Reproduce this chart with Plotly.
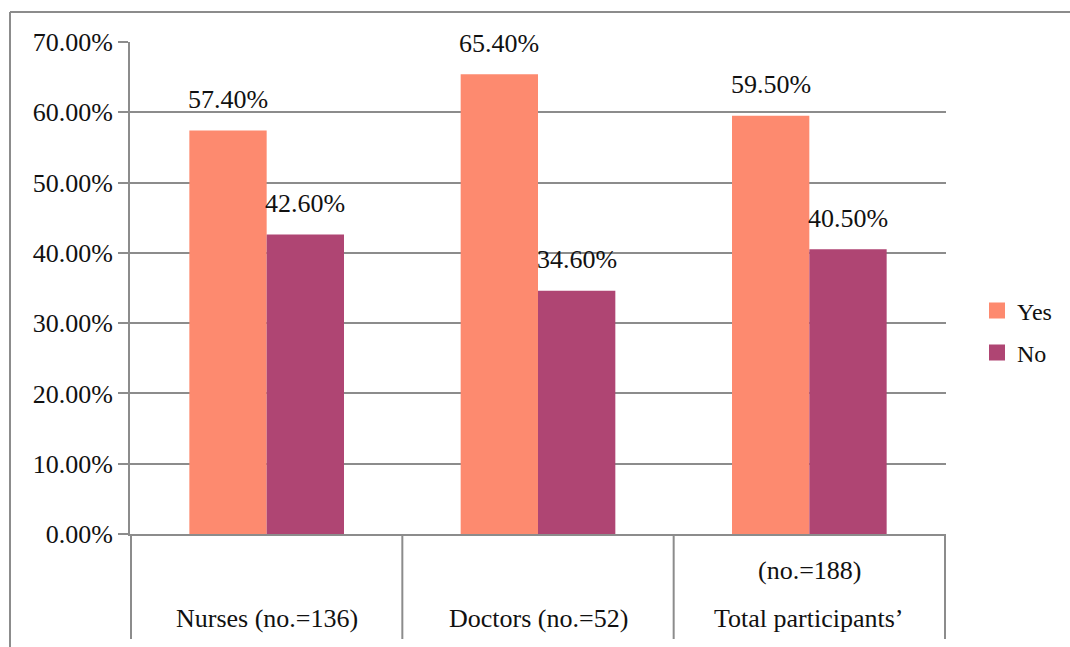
import plotly.graph_objects as go

# Survey answers by professional group
categories = ["Nurses (no.=136)", "Doctors (no.=52)", "Total participants’"]
category_notes = ["", "", "(no.=188)"]
yes_share = [0.574, 0.654, 0.595]
no_share = [0.426, 0.346, 0.405]
series_names = ["Yes", "No"]
y_ticks = [0.0, 0.1, 0.2, 0.3, 0.4, 0.5, 0.6, 0.7]

YES_COLOR = "#FD8A6F"
NO_COLOR = "#AF4573"
GRID = "#8C8C8C"
FONT = "Liberation Serif"
TXT = "#111111"

W, H = 1070, 647
L, R, T, B = 130, 124, 42, 113
plot_w = W - L - R
plot_h = H - T - B
BARGAP = 0.43
bar_px = plot_w / len(categories) * (1 - BARGAP) / 2

fig = go.Figure()
series = [(series_names[0], yes_share, YES_COLOR, "legend"),
          (series_names[1], no_share, NO_COLOR, "legend2")]
for name, vals, col, leg in series:
    fig.add_trace(go.Bar(x=categories, y=vals, name=name, marker_color=col,
                         marker_line_width=0, showlegend=False))
    # legend entry with a larger square swatch
    fig.add_trace(go.Scatter(x=[None], y=[None], mode="markers", name=name, legend=leg,
                             marker=dict(symbol="square", size=16, color=col)))

# value labels above each bar
for vals, sign in [(yes_share, -1), (no_share, 1)]:
    for cat, v in zip(categories, vals):
        fig.add_annotation(x=cat, y=v, xref="x", yref="y", text=f"{v*100:.2f}%",
                           showarrow=False, xshift=sign * bar_px / 2, yshift=31,
                           yanchor="middle", font=dict(family=FONT, size=26, color=TXT))

# category labels under the axis
for cat, note in zip(categories, category_notes):
    fig.add_annotation(x=cat, y=0, xref="x", yref="paper", text=cat, showarrow=False,
                       yanchor="middle", yshift=-84, font=dict(family=FONT, size=26, color=TXT))
    if note:
        fig.add_annotation(x=cat, y=0, xref="x", yref="paper", text=note, showarrow=False,
                           yanchor="middle", yshift=-36, font=dict(family=FONT, size=26, color=TXT))

# category separators extending below the axis
sep_depth = (639 - (H - B)) / plot_h
for i in range(len(categories) + 1):
    fig.add_shape(type="line", xref="x", yref="paper", x0=i - 0.5, x1=i - 0.5,
                  y0=0, y1=-sep_depth, line=dict(color=GRID, width=2), layer="below")

# outer chart frame (top and left edges)
fx = (10 - L) / plot_w
fy = (H - B - 12) / plot_h
fig.add_shape(type="line", xref="paper", yref="paper", x0=fx, x1=(W - L) / plot_w + 0.01,
              y0=fy, y1=fy, line=dict(color=GRID, width=2))
fig.add_shape(type="line", xref="paper", yref="paper", x0=fx, x1=fx,
              y0=fy, y1=-(B + 5) / plot_h, line=dict(color=GRID, width=2))

leg_common = dict(xanchor="left", yanchor="middle", itemwidth=30,
                  font=dict(family=FONT, size=24, color=TXT), bgcolor="rgba(0,0,0,0)")
leg_x = (977 - L) / plot_w

fig.update_layout(
    width=W, height=H,
    margin=dict(l=L, r=R, t=T, b=B, autoexpand=False),
    paper_bgcolor="white", plot_bgcolor="white",
    barmode="group", bargap=BARGAP, bargroupgap=0,
    font=dict(family=FONT, size=26, color=TXT),
    legend=dict(x=leg_x, y=(H - B - 311) / plot_h, **leg_common),
    legend2=dict(x=leg_x, y=(H - B - 353) / plot_h, **leg_common),
    xaxis=dict(showticklabels=False, showgrid=False, showline=True,
               linecolor=GRID, linewidth=2, ticks="", zeroline=False),
    yaxis=dict(range=[0, 0.7], tickvals=y_ticks, tickformat=".2%",
               showgrid=True, gridcolor=GRID, gridwidth=2,
               showline=True, linecolor=GRID, linewidth=2,
               ticks="outside", ticklen=10, tickcolor=GRID, tickwidth=2,
               zeroline=False, tickfont=dict(family=FONT, size=26, color=TXT)),
)

fig.write_html("out.html")
